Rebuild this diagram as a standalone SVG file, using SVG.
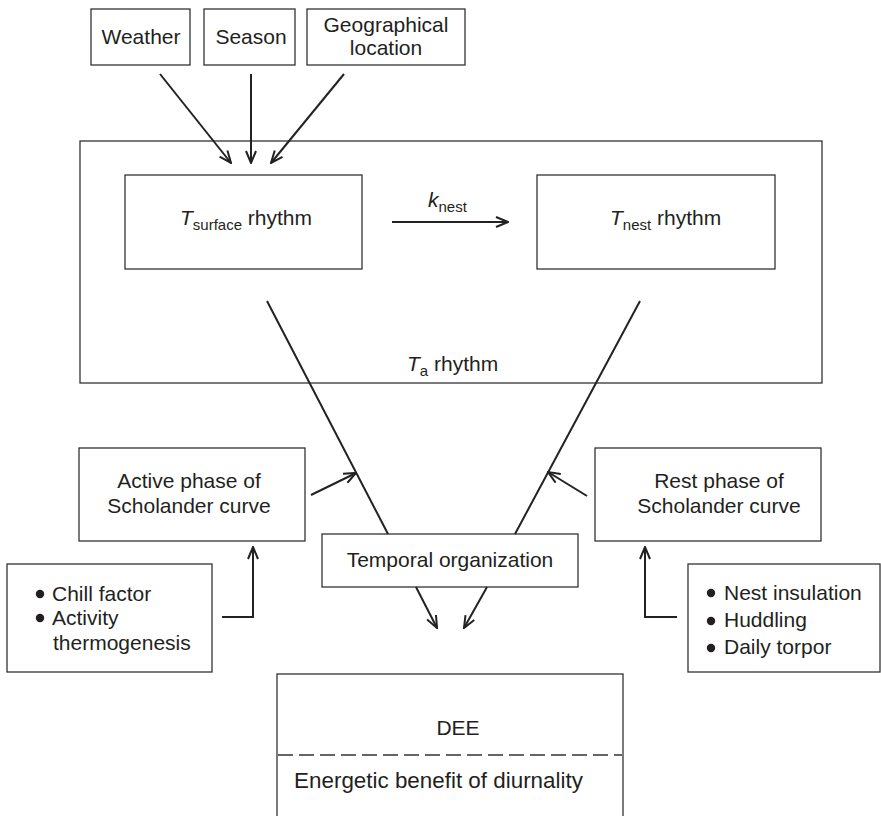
<svg xmlns="http://www.w3.org/2000/svg" width="881" height="816" viewBox="0 0 881 816">
<style>
.box{fill:#fff;stroke:#333;stroke-width:1.3}
.frame{fill:none;stroke:#333;stroke-width:1.3}
.ln{fill:none;stroke:#222;stroke-width:2}
.ar{fill:none;stroke:#222;stroke-width:2;marker-end:url(#ah)}
text{font-family:"Liberation Sans",Arial,sans-serif;font-size:21px;fill:#231f20}
.c{text-anchor:middle}
.sub{font-size:15px}
.it{font-style:italic}
</style>
<defs>
<marker id="ah" viewBox="0 0 14 12" refX="13" refY="6" markerWidth="14" markerHeight="12" markerUnits="userSpaceOnUse" orient="auto">
<path d="M1,1 L13,6 L1,11" fill="none" stroke="#222" stroke-width="2"/>
</marker>
</defs>
<rect width="881" height="816" fill="#fff"/>

<g id="ta-rhythm">
<rect class="frame" x="80" y="141" width="742" height="242"/>
<text x="407" y="371"><tspan class="it">T</tspan><tspan class="sub" dy="5">a</tspan><tspan dy="-5"> rhythm</tspan></text>
</g>

<g id="weather">
<rect class="box" x="91" y="9" width="99" height="56"/>
<text class="c" x="141" y="44">Weather</text>
</g>
<g id="season">
<rect class="box" x="204" y="9" width="91" height="56"/>
<text class="c" x="251" y="44">Season</text>
</g>
<g id="geo">
<rect class="box" x="307" y="9" width="158" height="56"/>
<text class="c" x="386" y="32">Geographical</text>
<text class="c" x="386" y="55">location</text>
</g>

<g id="tsurface">
<rect class="box" x="125" y="175" width="237" height="94"/>
<text x="180" y="225"><tspan class="it">T</tspan><tspan class="sub" dy="5">surface</tspan><tspan dy="-5"> rhythm</tspan></text>
</g>
<g id="tnest">
<rect class="box" x="537" y="175" width="238" height="94"/>
<text x="610" y="225"><tspan class="it">T</tspan><tspan class="sub" dy="5">nest</tspan><tspan dy="-5"> rhythm</tspan></text>
</g>

<g id="active">
<rect class="box" x="79" y="448" width="226" height="93"/>
<text class="c" x="189" y="488">Active phase of</text>
<text class="c" x="189" y="513">Scholander curve</text>
</g>
<g id="rest">
<rect class="box" x="595" y="448" width="226" height="93"/>
<text class="c" x="719" y="488">Rest phase of</text>
<text class="c" x="719" y="513">Scholander curve</text>
</g>

<g id="chill">
<rect class="box" x="7" y="564" width="205" height="108"/>
<circle cx="40" cy="594" r="4.2" fill="#231f20"/>
<circle cx="40" cy="618" r="4.2" fill="#231f20"/>
<text x="52" y="601">Chill factor</text>
<text x="52" y="625">Activity</text>
<text x="53" y="650">thermogenesis</text>
</g>
<g id="nest">
<rect class="box" x="688" y="564" width="192" height="108"/>
<circle cx="711" cy="593" r="4.2" fill="#231f20"/>
<circle cx="711" cy="621" r="4.2" fill="#231f20"/>
<circle cx="711" cy="648" r="4.2" fill="#231f20"/>
<text x="724" y="600">Nest insulation</text>
<text x="724" y="627">Huddling</text>
<text x="724" y="654">Daily torpor</text>
</g>

<g id="temporal">
<rect class="box" x="322" y="534" width="256" height="53"/>
<text class="c" x="450" y="567">Temporal organization</text>
</g>

<g id="dee">
<rect class="box" x="277" y="674" width="346" height="145"/>
<text class="c" x="458" y="735">DEE</text>
<line x1="278" y1="755" x2="622" y2="755" stroke="#333" stroke-width="1.3" stroke-dasharray="15 6"/>
<text class="c" x="438.5" y="788" style="font-size:22.4px">Energetic benefit of diurnality</text>
</g>

<g id="connectors">
<line class="ar" x1="160" y1="74" x2="231" y2="163"/>
<line class="ar" x1="251" y1="74" x2="251" y2="163"/>
<line class="ar" x1="344" y1="74" x2="271" y2="163"/>
<line class="ar" x1="392" y1="222" x2="508" y2="222"/>
<text x="428" y="207"><tspan class="it">k</tspan><tspan class="sub" dy="5">nest</tspan></text>
<line class="ln" x1="267" y1="301" x2="388" y2="534"/>
<line class="ln" x1="640" y1="301" x2="515" y2="534"/>
<line class="ar" x1="311" y1="495" x2="356" y2="473"/>
<line class="ar" x1="587" y1="496" x2="548" y2="472"/>
<line class="ar" x1="416" y1="587" x2="437" y2="628"/>
<line class="ar" x1="487" y1="587" x2="464" y2="628"/>
<path class="ar" d="M222,617 H253 V547"/>
<path class="ar" d="M677,617 H645 V547"/>
</g>
</svg>
